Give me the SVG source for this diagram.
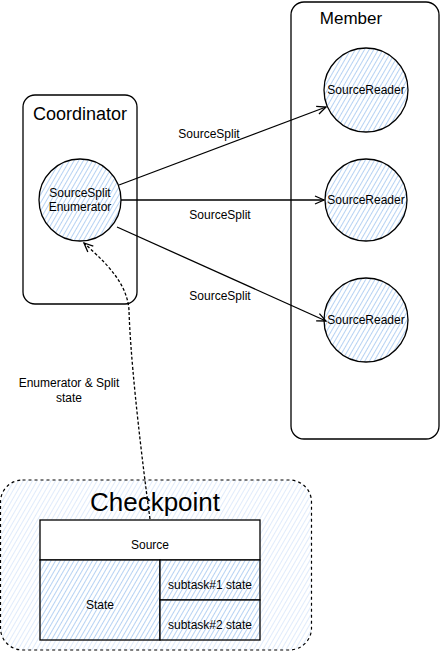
<svg xmlns="http://www.w3.org/2000/svg" width="441" height="651" viewBox="0 0 441 651">
<defs>
<pattern id="hatch" patternUnits="userSpaceOnUse" width="4" height="4" patternTransform="rotate(30)">
<rect width="4" height="4" fill="#ffffff"/>
<line x1="0" y1="0" x2="0" y2="4" stroke="#aecdf2" stroke-width="1.8"/>
</pattern>
<pattern id="hatchLight" patternUnits="userSpaceOnUse" width="4" height="4" patternTransform="rotate(30)">
<rect width="4" height="4" fill="#ffffff"/>
<line x1="0" y1="0" x2="0" y2="4" stroke="#d8e7fa" stroke-width="1.6"/>
</pattern>
<marker id="arr" markerWidth="12" markerHeight="10" refX="10" refY="5" orient="auto" markerUnits="userSpaceOnUse">
<path d="M1,1 L10,5 L1,9" fill="none" stroke="#000" stroke-width="1.3"/>
</marker>
</defs>
<style>
text{font-family:"Liberation Sans",Arial,sans-serif;fill:#000;}
.box{fill:#fff;stroke:#000;stroke-width:1.3;}
.circ{fill:url(#hatch);stroke:#000;stroke-width:1.3;}
.lbl{font-size:12px;text-anchor:middle;}
.edge{fill:none;stroke:#000;stroke-width:1.3;marker-end:url(#arr);}
.cell{stroke:#000;stroke-width:1.3;}
</style>
<rect width="441" height="651" fill="#fff"/>
<g id="coordinator">
<rect class="box" x="23" y="95" width="114" height="209" rx="12"/>
<text x="80" y="120" font-size="18" text-anchor="middle">Coordinator</text>
</g>
<g id="member">
<rect class="box" x="291" y="2" width="148" height="437" rx="13"/>
<text x="351" y="24" font-size="17" text-anchor="middle">Member</text>
</g>
<g id="enumerator">
<circle class="circ" cx="80" cy="200" r="41"/>
<text class="lbl" x="80" y="197">SourceSplit</text>
<text class="lbl" x="80" y="211">Enumerator</text>
</g>
<g id="reader1">
<circle class="circ" cx="366" cy="90" r="42"/>
<text class="lbl" x="366" y="94">SourceReader</text>
</g>
<g id="reader2">
<circle class="circ" cx="366" cy="200" r="41"/>
<text class="lbl" x="366" y="204">SourceReader</text>
</g>
<g id="reader3">
<circle class="circ" cx="366" cy="320" r="42"/>
<text class="lbl" x="366" y="324">SourceReader</text>
</g>
<g id="checkpoint">
<rect x="0.5" y="480" width="311" height="170" rx="22" fill="url(#hatchLight)" stroke="#000" stroke-width="1.2" stroke-dasharray="3,3"/>
<text x="155" y="511" font-size="26" text-anchor="middle">Checkpoint</text>
</g>
<g id="source">
<rect class="cell" x="40" y="520" width="220" height="40" fill="#fff"/>
<text class="lbl" x="150" y="549">Source</text>
</g>
<g id="state">
<rect class="cell" x="40" y="560" width="120" height="80" fill="url(#hatch)"/>
<text class="lbl" x="100" y="609">State</text>
</g>
<g id="subtask1">
<rect class="cell" x="160" y="560" width="100" height="40" fill="url(#hatch)"/>
<text class="lbl" x="210" y="589">subtask#1 state</text>
</g>
<g id="subtask2">
<rect class="cell" x="160" y="600" width="100" height="40" fill="url(#hatch)"/>
<text class="lbl" x="210" y="629">subtask#2 state</text>
</g>
<g id="connectors">
<path class="edge" d="M119,185 L326,107"/>
<path class="edge" d="M121,200 L324,200"/>
<path class="edge" d="M117,227 L326,321"/>
<path class="edge" d="M150,519 C138,430 130,350 129,310 C127,280 100,258 84,243" stroke-dasharray="3,2" stroke-width="1.8"/>
<text class="lbl" x="209" y="138">SourceSplit</text>
<text class="lbl" x="220" y="219">SourceSplit</text>
<text class="lbl" x="220" y="300">SourceSplit</text>
<text class="lbl" x="69" y="387">Enumerator &amp; Split</text>
<text class="lbl" x="69" y="402">state</text>
</g>
</svg>
